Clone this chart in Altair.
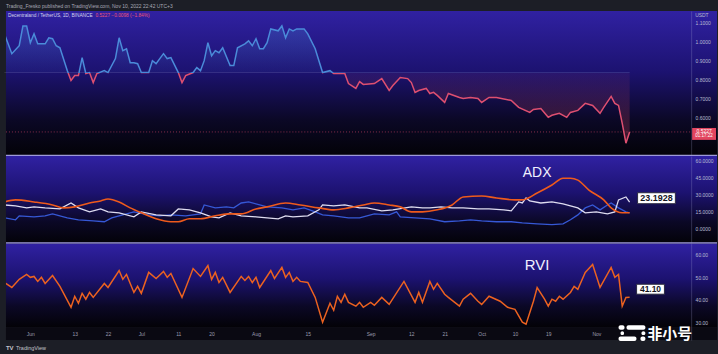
import altair as alt
import pandas as pd

# ---------------- data ----------------
price_dates = ["2022-05-25","2022-05-27","2022-05-29","2022-05-30","2022-05-31",
    "2022-06-01","2022-06-02","2022-06-03","2022-06-05","2022-06-06","2022-06-07","2022-06-08","2022-06-09","2022-06-11","2022-06-12","2022-06-13","2022-06-14","2022-06-15","2022-06-16","2022-06-17","2022-06-18","2022-06-19","2022-06-21","2022-06-22","2022-06-24","2022-06-25","2022-06-26","2022-06-27","2022-06-28","2022-06-29","2022-06-30",
    "2022-07-01","2022-07-03","2022-07-04","2022-07-05","2022-07-06","2022-07-07","2022-07-08","2022-07-09","2022-07-11","2022-07-12","2022-07-13","2022-07-15","2022-07-16","2022-07-17","2022-07-18","2022-07-19","2022-07-20","2022-07-21","2022-07-22","2022-07-23","2022-07-25","2022-07-26","2022-07-27","2022-07-29","2022-07-30","2022-07-31",
    "2022-08-01","2022-08-02","2022-08-03","2022-08-04","2022-08-05","2022-08-07","2022-08-08","2022-08-09","2022-08-10","2022-08-11","2022-08-12","2022-08-14","2022-08-15","2022-08-17","2022-08-19","2022-08-21","2022-08-22","2022-08-25","2022-08-26","2022-08-28","2022-08-29","2022-08-30",
    "2022-09-02","2022-09-04","2022-09-06","2022-09-07","2022-09-09","2022-09-11","2022-09-12","2022-09-13","2022-09-14","2022-09-16","2022-09-17","2022-09-18","2022-09-19","2022-09-21","2022-09-22","2022-09-25","2022-09-26","2022-09-28","2022-09-30",
    "2022-10-01","2022-10-03","2022-10-05","2022-10-09","2022-10-11","2022-10-14","2022-10-15","2022-10-17","2022-10-19","2022-10-20","2022-10-22","2022-10-24","2022-10-25","2022-10-27","2022-10-29","2022-10-31",
    "2022-11-02","2022-11-03","2022-11-05","2022-11-06","2022-11-07","2022-11-08","2022-11-09","2022-11-10"]
price_values = [1.042,0.937,0.979,1.084,1.084,
    0.995,1.042,0.989,0.989,1.021,1.016,0.979,0.968,0.847,0.795,0.821,0.821,0.916,0.832,0.837,0.784,0.832,0.847,0.837,0.911,1.021,0.953,0.963,0.889,0.889,0.884,
    0.837,0.837,0.900,0.884,0.911,0.937,0.911,0.916,0.837,0.784,0.821,0.837,0.863,0.847,0.900,0.995,0.926,0.953,0.942,0.968,0.874,0.874,0.968,0.989,1.005,0.979,
    1.016,0.963,0.963,0.995,1.068,1.058,1.084,1.021,1.068,1.058,1.068,1.068,1.042,0.963,0.837,0.847,0.832,0.832,0.779,0.753,0.789,0.774,
    0.779,0.805,0.742,0.768,0.811,0.805,0.784,0.732,0.742,0.753,0.726,0.732,0.716,0.679,0.726,0.705,0.700,0.705,0.700,
    0.679,0.705,0.705,0.689,0.653,0.626,0.642,0.647,0.600,0.611,0.621,0.600,0.626,0.637,0.674,0.663,
    0.621,0.653,0.711,0.674,0.663,0.568,0.463,0.5227]
baseline_price = 0.837
last_price = 0.5227

adx_dates = ["2022-05-25","2022-05-28","2022-06-02","2022-06-07","2022-06-10","2022-06-13","2022-06-17","2022-06-20","2022-06-22","2022-06-25","2022-06-28",
    "2022-07-01","2022-07-05","2022-07-09","2022-07-11","2022-07-14","2022-07-17","2022-07-21","2022-07-25","2022-07-28",
    "2022-08-01","2022-08-04","2022-08-09","2022-08-13","2022-08-18","2022-08-22","2022-08-26","2022-08-30",
    "2022-09-02","2022-09-06","2022-09-09","2022-09-12","2022-09-15","2022-09-19","2022-09-23","2022-09-26",
    "2022-10-01","2022-10-05","2022-10-10","2022-10-12","2022-10-16","2022-10-20","2022-10-23","2022-10-25","2022-10-27","2022-10-30",
    "2022-11-03","2022-11-05","2022-11-08","2022-11-10"]
adx_values = [23.4,25.2,23.4,20.8,18.2,19.1,22.5,24.3,26.0,23.4,18.2,
    13.9,8.7,6.1,6.1,8.7,8.7,11.3,13.0,13.0,
    17.3,19.1,22.5,20.8,18.2,16.5,18.2,20.8,
    22.5,20.8,19.1,14.7,14.7,16.5,20.8,27.8,
    28.6,26.9,25.2,25.2,31.2,38.2,44.2,44.2,42.5,33.8,
    25.2,18.2,13.9,13.9]

plus_di_dates = ["2022-05-25","2022-05-28","2022-05-31",
    "2022-06-02","2022-06-05","2022-06-09","2022-06-12","2022-06-14","2022-06-17","2022-06-20","2022-06-22","2022-06-25","2022-06-29",
    "2022-07-01","2022-07-05","2022-07-09","2022-07-11","2022-07-14","2022-07-17","2022-07-20","2022-07-22","2022-07-25","2022-07-28",
    "2022-08-01","2022-08-04","2022-08-07","2022-08-09","2022-08-11","2022-08-15","2022-08-18","2022-08-19","2022-08-22","2022-08-25","2022-08-29","2022-08-31",
    "2022-09-04","2022-09-07","2022-09-12","2022-09-15","2022-09-17","2022-09-20","2022-09-23","2022-09-26","2022-09-30",
    "2022-10-03","2022-10-07","2022-10-09","2022-10-11","2022-10-12","2022-10-13","2022-10-14","2022-10-17","2022-10-20","2022-10-23","2022-10-27","2022-10-29",
    "2022-11-01","2022-11-04","2022-11-06","2022-11-07","2022-11-09","2022-11-10"]
plus_di_values = [20.8,19.9,18.2,
    19.1,18.2,17.3,22.5,18.2,14.7,17.3,14.7,13.9,10.4,
    14.7,12.1,11.3,17.3,16.5,13.9,10.4,9.5,13.9,11.3,
    10.4,9.5,8.7,11.3,10.4,11.3,16.5,20.8,19.9,20.8,18.2,18.2,
    15.6,16.5,19.1,18.2,18.2,19.1,18.2,18.2,17.3,
    17.3,16.5,15.6,23.4,22.5,26.9,24.3,22.5,23.4,21.7,18.2,13.9,
    14.7,13.0,14.7,25.2,27.8,23.1928]

minus_di_dates = ["2022-05-25","2022-05-28","2022-05-29",
    "2022-06-02","2022-06-05","2022-06-07","2022-06-11","2022-06-14","2022-06-18","2022-06-21","2022-06-23","2022-06-27","2022-06-29",
    "2022-07-03","2022-07-06","2022-07-09","2022-07-13","2022-07-17","2022-07-18","2022-07-21","2022-07-24","2022-07-26","2022-07-28","2022-07-30",
    "2022-08-02","2022-08-04","2022-08-08","2022-08-11","2022-08-14","2022-08-17","2022-08-19","2022-08-22","2022-08-26","2022-08-29","2022-08-30",
    "2022-09-02","2022-09-06","2022-09-08","2022-09-09","2022-09-13","2022-09-17","2022-09-21","2022-09-25","2022-09-28",
    "2022-10-01","2022-10-05","2022-10-09","2022-10-12","2022-10-16","2022-10-20","2022-10-23","2022-10-25","2022-10-27","2022-10-29","2022-10-31",
    "2022-11-02","2022-11-04","2022-11-05","2022-11-07","2022-11-09","2022-11-10"]
minus_di_values = [9.5,7.8,11.3,
    10.4,11.3,13.0,9.5,7.8,6.9,6.1,9.5,13.0,14.7,
    12.1,11.3,12.1,11.3,13.0,20.8,18.2,19.1,18.2,22.5,23.4,
    20.8,19.1,18.2,16.5,18.2,14.7,12.1,11.3,9.5,9.5,10.4,
    13.0,12.1,14.7,10.4,9.5,8.7,6.1,6.9,7.8,
    6.9,6.1,6.1,5.2,4.3,3.5,4.3,7.8,12.1,18.2,20.8,
    16.5,20.8,22.5,18.2,14.7,13.9]

rvi_dates = ["2022-05-25","2022-05-27","2022-05-29","2022-05-31",
    "2022-06-01","2022-06-02","2022-06-03","2022-06-04","2022-06-05","2022-06-07","2022-06-09","2022-06-12","2022-06-13","2022-06-14","2022-06-15","2022-06-16","2022-06-17","2022-06-18","2022-06-21","2022-06-22","2022-06-25","2022-06-26","2022-06-27","2022-06-29","2022-06-30",
    "2022-07-01","2022-07-03","2022-07-05","2022-07-07","2022-07-08","2022-07-09","2022-07-12","2022-07-15","2022-07-17","2022-07-19","2022-07-20","2022-07-21","2022-07-22","2022-07-23","2022-07-25","2022-07-28","2022-07-29","2022-07-30","2022-07-31",
    "2022-08-01","2022-08-02","2022-08-05","2022-08-06","2022-08-08","2022-08-09","2022-08-10","2022-08-11","2022-08-12","2022-08-13","2022-08-15","2022-08-17","2022-08-19","2022-08-21","2022-08-22","2022-08-23","2022-08-24","2022-08-25","2022-08-26","2022-08-28","2022-08-29","2022-08-30",
    "2022-09-01","2022-09-02","2022-09-04","2022-09-06","2022-09-10","2022-09-13","2022-09-14","2022-09-15","2022-09-17","2022-09-18","2022-09-19","2022-09-21","2022-09-22","2022-09-25","2022-09-26","2022-09-28","2022-09-30",
    "2022-10-01","2022-10-03","2022-10-06","2022-10-08","2022-10-10","2022-10-12","2022-10-13","2022-10-15","2022-10-16","2022-10-18","2022-10-19","2022-10-20","2022-10-21","2022-10-22","2022-10-23","2022-10-25","2022-10-26","2022-10-27","2022-10-29","2022-10-31",
    "2022-11-02","2022-11-05","2022-11-06","2022-11-07","2022-11-08","2022-11-09","2022-11-10"]
rvi_values = [47.6,45.4,49.0,51.2,
    49.9,50.3,48.1,49.9,47.2,50.7,45.9,36.6,41.5,38.4,42.8,40.2,43.2,41.0,47.2,45.4,52.9,49.0,51.2,43.2,45.9,
    42.8,52.1,49.4,52.5,49.9,51.6,41.0,53.8,50.3,55.1,49.0,52.1,47.6,49.9,43.2,50.3,48.5,50.3,47.6,
    49.9,45.4,52.9,49.4,54.3,49.9,52.1,48.1,49.9,48.1,47.6,41.0,30.0,38.4,35.3,41.5,38.8,42.4,38.8,37.1,38.8,36.6,
    38.8,37.5,41.0,37.9,48.1,38.8,43.2,38.8,48.1,44.6,47.2,42.4,41.0,37.1,40.2,42.8,39.3,
    37.9,41.5,39.3,36.6,35.7,30.0,29.1,39.3,45.4,40.2,37.1,40.2,39.3,41.5,40.2,43.2,45.9,44.6,52.1,55.6,
    45.4,54.3,49.9,51.2,37.1,41.0,41.1]

date_ticks = ["2022-06-01","2022-06-13","2022-06-22","2022-07-01","2022-07-11","2022-07-20",
              "2022-08-01","2022-08-15","2022-09-01","2022-09-12","2022-09-21","2022-10-01",
              "2022-10-10","2022-10-19","2022-11-01"]
price_ticks = [0.6, 0.7, 0.8, 0.9, 1.0, 1.1]
adx_ticks = [0, 15, 30, 45, 60]
rvi_ticks = [30, 40, 50, 60]

header_text = "Trading_Fresko published on TradingView.com, Nov 10, 2022 22:42 UTC+3"
symbol_text = "Decentraland / TetherUS, 1D, BINANCE"
change_text = "0.5227  \u22120.0098 (\u22121.84%)"
adx_label, rvi_label = "ADX", "RVI"
adx_box_text, rvi_box_text = "23.1928", "41.10"
countdown_text = "01:17:22"

assert len(price_dates) == len(price_values)
assert len(adx_dates) == len(adx_values)
assert len(plus_di_dates) == len(plus_di_values)
assert len(minus_di_dates) == len(minus_di_values)
assert len(rvi_dates) == len(rvi_values)

# ---------------- layout / style ----------------
W = 715
H_HEAD, H_MAIN, H_ADX, H_RVI, H_FOOT = 10, 146, 88, 97, 13
BAND = 13
AXIS_W = 26
FONT = "Liberation Sans"


def ms(s, days=0.0):
    return int((pd.Timestamp(s, tz="UTC") + pd.Timedelta(days=days)).value // 10**6)


x_scale = alt.Scale(type="utc", domain=[ms("2022-06-01", -6.586), ms("2022-06-01", 185.62)])
x_none = alt.X("date:T", scale=x_scale, axis=None)
x_axis_dates = alt.X("date:T", scale=x_scale, axis=alt.Axis(
    orient="bottom", offset=-BAND, values=[ms(d) for d in date_ticks],
    labelExpr="utcdate(datum.value) == 1 ? utcFormat(datum.value, '%b') : '' + utcdate(datum.value)",
    labelFontSize=5, labelColor="#9c9cb0", labelFont=FONT, labelPadding=4,
    ticks=False, grid=False, domain=False, title=None, zindex=1,
    labelOverlap=False, labelFlush=False))


def y_axis(values, fmt):
    return alt.Axis(orient="right", offset=-AXIS_W, values=values, format=fmt,
                    labelFontSize=5, labelColor="#b8b8d0", labelFont=FONT, labelPadding=4,
                    labelAlign="left", ticks=False, grid=False, domain=True,
                    domainColor="rgba(170,170,220,0.25)", domainWidth=1, title=None, zindex=1)


def vgrad(stops):
    return alt.LinearGradient(gradient="linear",
                              stops=[alt.GradientStop(color=c, offset=o) for c, o in stops],
                              x1=0, x2=0, y1=0, y2=1)


BG_STOPS = [("#3021a2", 0), ("#1c1270", 0.42), ("#0b0826", 0.75), ("#030207", 1)]
one = pd.DataFrame({"k": [0]})


def bg(h):
    return alt.Chart(one).mark_rect(fill=vgrad(BG_STOPS)).encode(
        x=alt.value(0), x2=alt.value(W), y=alt.value(0), y2=alt.value(h))


def separator(h):
    return alt.Chart(one).mark_rule(color="#9e9ad8", strokeWidth=1.5).encode(
        x=alt.value(0), x2=alt.value(W), y=alt.value(h - 0.75))


# ---------------- header / footer ----------------
head = alt.Chart(one).mark_text(text=header_text, align="left", baseline="middle",
                                fontSize=5, color="#a8a8b4", font=FONT).encode(
    x=alt.value(0), y=alt.value(5)).properties(width=W, height=H_HEAD)

foot = alt.layer(
    alt.Chart(one).mark_text(text="TV", align="left", baseline="middle", fontSize=6,
                             fontWeight="bold", color="#c4c4cc", font=FONT).encode(
        x=alt.value(0), y=alt.value(6)),
    alt.Chart(one).mark_text(text="TradingView", align="left", baseline="middle", fontSize=5.5,
                             color="#c4c4cc", font=FONT).encode(
        x=alt.value(10), y=alt.value(6)),
).properties(width=W, height=H_FOOT)

# ---------------- main price panel ----------------
price_df = pd.DataFrame({"date": price_dates, "price": price_values})
price_df["base"] = baseline_price
pmax, pmin = max(price_values), min(price_values)
cut = (pmax - baseline_price) / (pmax - pmin)
BLUE, RED = "#4a8bd9", "#de4f70"
line_grad = vgrad([(BLUE, 0), (BLUE, cut), (RED, cut), (RED, 1)])
area_grad = vgrad([("rgba(74,139,217,0.28)", 0), ("rgba(74,139,217,0.05)", cut),
                   ("rgba(222,79,112,0.07)", cut), ("rgba(222,79,112,0.28)", 1)])

y_price = alt.Y("price:Q", scale=alt.Scale(domain=[0.39474, 1.16316], nice=False, zero=False),
                axis=y_axis(price_ticks, ".4f"))

base_df = pd.DataFrame({"date": [price_dates[0]], "date2": [price_dates[-1]], "price": [baseline_price]})
last_df = pd.DataFrame({"date": [price_dates[-1]], "price": [last_price]})

main = alt.layer(
    bg(H_MAIN),
    alt.Chart(price_df).mark_area(fill=area_grad, clip=True).encode(x=x_none, y=y_price, y2="base:Q"),
    alt.Chart(base_df).mark_rule(color="rgba(200,196,235,0.16)", strokeWidth=1).encode(
        x=x_none, x2="date2:T", y=y_price),
    alt.Chart(last_df).mark_rule(color="#e04a6a", strokeDash=[1, 2], strokeWidth=1, opacity=0.6).encode(
        x=alt.value(0), x2=alt.value(W - AXIS_W), y=y_price),
    alt.Chart(price_df).mark_line(stroke=line_grad, strokeWidth=1.5, clip=True).encode(x=x_none, y=y_price),
    alt.Chart(one).mark_text(text=symbol_text, align="left", baseline="middle", fontSize=4.8,
                             color="#d4d4ee", font=FONT).encode(x=alt.value(2), y=alt.value(5)),
    alt.Chart(one).mark_text(text=change_text, align="left", baseline="middle", fontSize=4.8,
                             color="#ec5577", font=FONT).encode(x=alt.value(90), y=alt.value(5)),
    alt.Chart(one).mark_text(text="USDT", align="left", baseline="middle", fontSize=5,
                             color="#b8b8d0", font=FONT).encode(x=alt.value(W - AXIS_W + 4), y=alt.value(4)),
    alt.Chart(last_df).mark_point(shape="M-1,-0.5L1,-0.5L1,0.5L-1,0.5Z", size=576, filled=True,
                                  fill="#e2455f", opacity=1, yOffset=2).encode(
        x=alt.value(W - 13), y=y_price),
    alt.Chart(last_df).mark_text(text=f"{last_price:.4f}", fontSize=5, color="white", font=FONT,
                                 baseline="middle", dy=-0.5).encode(x=alt.value(W - 13), y=y_price),
    alt.Chart(last_df).mark_text(text=countdown_text, fontSize=4.5, color="white", font=FONT,
                                 baseline="middle", dy=4.5).encode(x=alt.value(W - 13), y=y_price),
    separator(H_MAIN),
).properties(width=W, height=H_MAIN)

# ---------------- ADX panel ----------------
y_adx = alt.Y("v:Q", scale=alt.Scale(domain=[-13.04, 63.48], nice=False, zero=False),
              axis=y_axis(adx_ticks, ".4f"))
adx_df = pd.DataFrame({"date": adx_dates, "v": adx_values})
plus_df = pd.DataFrame({"date": plus_di_dates, "v": plus_di_values})
minus_df = pd.DataFrame({"date": minus_di_dates, "v": minus_di_values})
adx_lab_df = pd.DataFrame({"date": ["2022-10-16"], "v": [48.7]})
adx_last = pd.DataFrame({"date": [plus_di_dates[-1]], "v": [plus_di_values[-1]]})

adx = alt.layer(
    bg(H_ADX),
    alt.Chart(minus_df).mark_line(color="#3658d6", strokeWidth=1.3, clip=True).encode(x=x_none, y=y_adx),
    alt.Chart(plus_df).mark_line(color="#dedcf0", strokeWidth=1.3, clip=True).encode(x=x_none, y=y_adx),
    alt.Chart(adx_df).mark_line(color="#ee5a1c", strokeWidth=1.6, interpolate="monotone", clip=True).encode(
        x=x_none, y=y_adx),
    alt.Chart(adx_lab_df).mark_text(text=adx_label, fontSize=14, color="#f0f0ff", font=FONT,
                                    baseline="middle").encode(x=x_none, y=y_adx),
    alt.Chart(adx_last).mark_point(shape="M-1,-0.29L1,-0.29L1,0.29L-1,0.29Z", size=1444, filled=True,
                                   fill="white", stroke="#2a2a40", strokeWidth=1, opacity=1,
                                   xOffset=27, yOffset=-4).encode(x=x_none, y=y_adx),
    alt.Chart(adx_last).mark_text(text=adx_box_text, fontSize=9, fontWeight="bold", color="#15151f",
                                  font=FONT, baseline="middle", dx=27, dy=-4).encode(x=x_none, y=y_adx),
    separator(H_ADX),
).properties(width=W, height=H_ADX)

# ---------------- RVI panel ----------------
y_rvi = alt.Y("v:Q", scale=alt.Scale(domain=[22.06, 64.85], nice=False, zero=False),
              axis=y_axis(rvi_ticks, ".2f"))
rvi_df = pd.DataFrame({"date": rvi_dates, "v": rvi_values})
rvi_lab_df = pd.DataFrame({"date": ["2022-10-16"], "v": [55.4]})
rvi_last = pd.DataFrame({"date": [rvi_dates[-1]], "v": [rvi_values[-1]]})


def wm_bar(x0, x1, y0, y1):
    return alt.Chart(one).mark_rect(color="white", cornerRadius=2).encode(
        x=alt.value(x0), x2=alt.value(x1), y=alt.value(y0), y2=alt.value(y1))


rvi = alt.layer(
    bg(H_RVI - BAND),
    alt.Chart(one).mark_rect(color="#0a0912").encode(
        x=alt.value(0), x2=alt.value(W), y=alt.value(H_RVI - BAND), y2=alt.value(H_RVI)),
    alt.Chart(rvi_df).mark_line(color="#ec6220", strokeWidth=1.5, clip=True).encode(x=x_axis_dates, y=y_rvi),
    alt.Chart(rvi_lab_df).mark_text(text=rvi_label, fontSize=15, color="#f0f0ff", font=FONT,
                                    baseline="middle").encode(x=x_axis_dates, y=y_rvi),
    alt.Chart(rvi_last).mark_point(shape="M-1,-0.357L1,-0.357L1,0.357L-1,0.357Z", size=784, filled=True,
                                   fill="white", stroke="#2a2a40", strokeWidth=1, opacity=1,
                                   xOffset=21, yOffset=-8).encode(x=x_axis_dates, y=y_rvi),
    alt.Chart(rvi_last).mark_text(text=rvi_box_text, fontSize=8.5, fontWeight="bold", color="#15151f",
                                  font=FONT, baseline="middle", dx=21, dy=-8).encode(x=x_axis_dates, y=y_rvi),
    wm_bar(616, 622, 82, 86.5), wm_bar(624, 643, 82, 86.5),
    wm_bar(618, 621.5, 88, 92), wm_bar(639, 643, 88, 92),
    wm_bar(616, 634, 93.5, 98), wm_bar(638, 643, 93.5, 98),
    alt.Chart(one).mark_text(text="非小号", fontSize=15, fontWeight="bold", color="white",
                             font="Noto Sans CJK SC", align="left", baseline="middle").encode(
        x=alt.value(645), y=alt.value(90.5)),
).properties(width=W, height=H_RVI)

chart = alt.vconcat(head, main, adx, rvi, foot, spacing=0).resolve_scale(
    x="independent", y="independent"
).properties(
    padding={"left": 3, "right": 0, "top": 0, "bottom": 0},
    background="#1c1e26",
).configure_view(stroke=None)

chart.save("out.html", embed_options={"renderer": "svg", "actions": False})
